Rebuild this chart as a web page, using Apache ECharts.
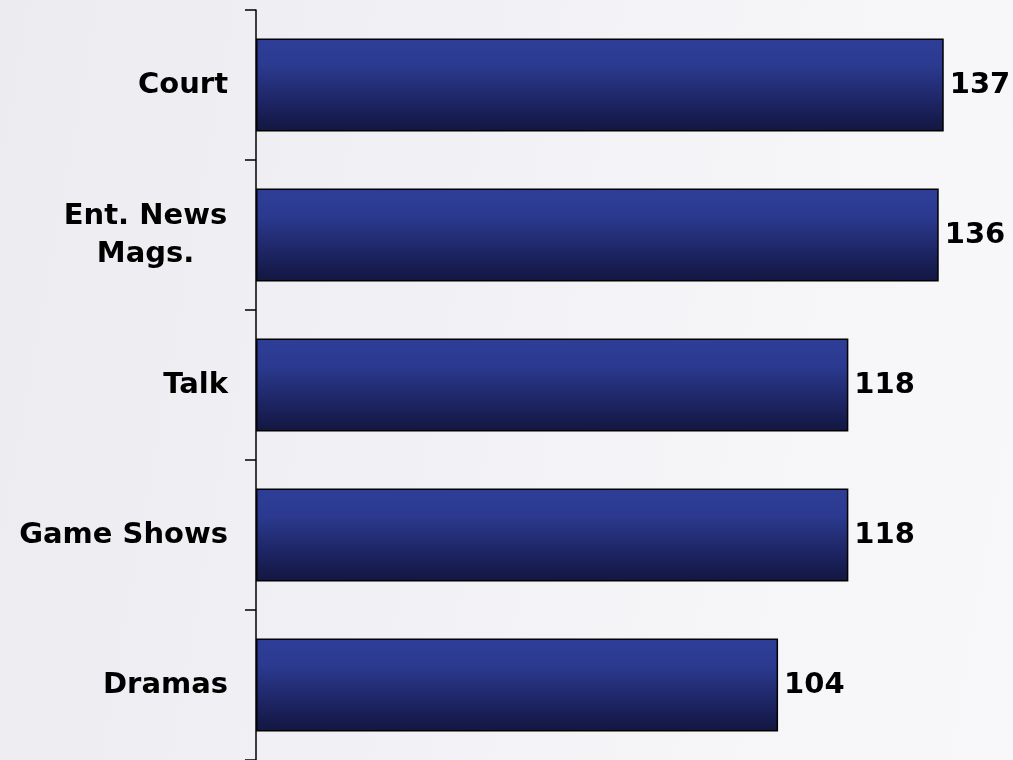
<!DOCTYPE html>
<html>
<head>
<meta charset="utf-8">
<script src="https://cdn.jsdelivr.net/npm/echarts@6/dist/echarts.min.js"></script>
<style>
html,body{margin:0;padding:0;width:1013px;height:760px;overflow:hidden;}
body{background:linear-gradient(100deg,#ecebf0 0%,#f1f1f5 40%,#f6f6f9 75%,#f8f8fb 100%);}
#chart{width:1013px;height:760px;}
</style>
</head>
<body>
<div id="chart"></div>
<script>
const categories = ['Court', 'Ent. News\nMags.', 'Talk', 'Game Shows', 'Dramas'];
const values = [137, 136, 118, 118, 104];
const axisMax = 150;

const chart = echarts.init(document.getElementById('chart'), null, {renderer: 'canvas'});
const font = '"DejaVu Sans", Verdana, sans-serif';
chart.setOption({
  backgroundColor: 'transparent',
  animation: false,
  grid: {left: 256, top: 10, width: 753, height: 750, containLabel: false},
  xAxis: {type: 'value', min: 0, max: axisMax, show: false},
  yAxis: {
    type: 'category',
    inverse: true,
    data: categories,
    axisLine: {lineStyle: {color: '#000', width: 1.5}},
    axisTick: {show: true, length: 11, lineStyle: {color: '#000', width: 1.5}},
    axisLabel: {
      margin: 28,
      color: '#000',
      fontFamily: font,
      fontWeight: 'bold',
      fontSize: 29,
      lineHeight: 38,
      formatter: function (v) {
        if (v.indexOf('\n') >= 0) {
          return v.split('\n').map(s => '{c|' + s + '}').join('\n');
        }
        return v;
      },
      rich: {
        c: {width: 165, align: 'center', fontFamily: font, fontWeight: 'bold', fontSize: 29, color: '#000', lineHeight: 38}
      }
    }
  },
  series: [{
    type: 'bar',
    data: values,
    barWidth: '62%',
    itemStyle: {
      borderColor: '#000',
      borderWidth: 1.5,
      color: new echarts.graphic.LinearGradient(0, 0, 0, 1, [
        {offset: 0, color: '#2e3e98'},
        {offset: 0.3, color: '#2b3a8f'},
        {offset: 0.7, color: '#1d2462'},
        {offset: 1, color: '#121640'}
      ])
    },
    label: {
      show: true,
      position: 'right',
      distance: 6,
      color: '#000',
      fontFamily: font,
      fontWeight: 'bold',
      fontSize: 29
    }
  }]
});
</script>
</body>
</html>
